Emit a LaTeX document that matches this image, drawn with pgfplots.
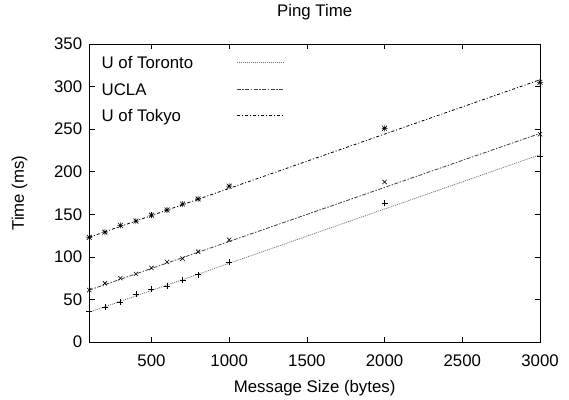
\documentclass[border=0pt]{standalone}
\usepackage{fontspec}
\setmainfont{Liberation Sans}
\usepackage{pgfplots}
\pgfplotsset{compat=1.18}
\pgfdeclareplotmark{plusx}{%
 \pgfpathmoveto{\pgfqpoint{-\pgfplotmarksize}{0pt}}\pgfpathlineto{\pgfqpoint{\pgfplotmarksize}{0pt}}%
 \pgfpathmoveto{\pgfqpoint{0pt}{-\pgfplotmarksize}}\pgfpathlineto{\pgfqpoint{0pt}{\pgfplotmarksize}}%
 \pgfpathmoveto{\pgfqpoint{-0.8\pgfplotmarksize}{-0.8\pgfplotmarksize}}\pgfpathlineto{\pgfqpoint{0.8\pgfplotmarksize}{0.8\pgfplotmarksize}}%
 \pgfpathmoveto{\pgfqpoint{-0.8\pgfplotmarksize}{0.8\pgfplotmarksize}}\pgfpathlineto{\pgfqpoint{0.8\pgfplotmarksize}{-0.8\pgfplotmarksize}}%
 \pgfusepathqstroke}
\newcommand{\fs}{\fontsize{16.8}{20}\selectfont}
\begin{document}
\begin{tikzpicture}
\begin{axis}[name=ax, scale only axis, width=450.7pt, height=298pt,
 xmin=100, xmax=3000, ymin=0, ymax=350,
 xtick={500,1000,...,3000}, ytick={0,50,...,350},
 scaled ticks=false,
 tick align=inside, major tick length=5.5pt, minor tick num=0,
 axis line style={line width=0.7pt},
 every tick/.style={black, line width=0.7pt},
 /pgf/number format/1000 sep={}, /pgf/number format/assume math mode=true,
 ticklabel style={font=\fs},
 xticklabel style={inner sep=0pt, anchor=north, yshift=-13pt},
 yticklabel style={inner sep=0pt, anchor=east, xshift=-7pt},
 title={Ping Time},
 title style={font=\fs, at={(rel axis cs:0.5,1.0738)}, anchor=base, inner sep=0pt},
 xlabel={Message Size (bytes)},
 xlabel style={font=\fs, at={(rel axis cs:0.5,-0.1678)}, anchor=base, inner sep=0pt},
 ylabel={Time (ms)},
 ylabel style={font=\fs, at={(rel axis cs:-0.1449,0.5)}, anchor=base, inner sep=0pt},
 legend style={at={(rel axis cs:0.0275,0.9574)}, anchor=north west, draw=none, fill=none,
   inner sep=0pt, outer sep=0pt, font=\fs, row sep=14.5pt, column sep=43pt,
   nodes={inner sep=0pt, text height=12pt, text depth=0pt}},
 legend plot pos=right, legend cell align=left,
 legend image code/.code={\draw[#1] (0pt,0pt) -- (47pt,0pt);},
]
\addplot[black!55, line width=0.8pt, dash pattern=on 1pt off 1pt] coordinates {(100,35) (3000,220)};
\addlegendentry{U of Toronto}
\addplot[black!75, line width=0.8pt, dash pattern=on 4pt off 1.5pt on 1.5pt off 1.5pt] coordinates {(100,61) (3000,245)};
\addlegendentry{UCLA}
\addplot[black, line width=0.8pt, dash pattern=on 3pt off 2pt on 1pt off 2pt] coordinates {(100,123) (3000,308)};
\addlegendentry{U of Tokyo}
\addplot[forget plot, only marks, mark=+, mark size=3pt, black, line width=0.6pt] coordinates {
(100,36) (200,41) (300,47) (400,56) (500,62) (600,66) (700,73) (800,79) (1000,94) (2000,163) (3000,218)};
\addplot[forget plot, only marks, mark=x, mark size=3pt, black, line width=0.6pt] coordinates {
(100,61) (200,69) (300,75) (400,80) (500,87) (600,94) (700,98) (800,106) (1000,120) (2000,188) (3000,244)};
\addplot[forget plot, only marks, mark=plusx, mark size=3pt, black, line width=0.6pt] coordinates {
(100,123) (200,129) (300,137) (400,142) (500,149) (600,155) (700,162) (800,168) (1000,183) (2000,251) (3000,305)};
\end{axis}
\pgfresetboundingbox
\path (ax.south west) ++(-89.3pt,-57pt) rectangle ++(569pt,399pt);
\end{tikzpicture}
\end{document}
